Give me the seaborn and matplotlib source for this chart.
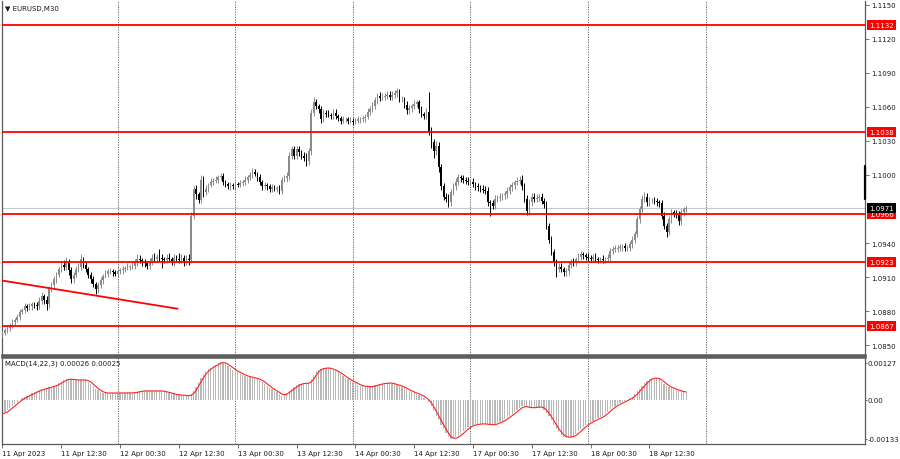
import numpy as np
import pandas as pd
import matplotlib
matplotlib.use("Agg")
import matplotlib.pyplot as plt
import matplotlib.transforms as mtransforms
import seaborn as sns

sns.set_theme(style="white")
plt.rcParams['font.family'] = ['DejaVu Sans']

# ---------------- data ----------------
BASE = 1.08          # price = BASE + pips * PIP
PIP = 0.0001
first_open_pips = 59

close_pips = [
    61, 63, 65, 67, 70, 72, 75, 79, 81, 84,
    83, 84, 86, 85, 84, 89, 93, 90, 86, 99,
    103, 108, 112, 117, 121, 119, 123, 116, 108, 112,
    117, 119, 126, 121, 117, 112, 108, 104, 99, 103,
    107, 111, 113, 115, 115, 114, 113, 115, 116, 117,
    118, 119, 119, 120, 123, 126, 125, 123, 122, 120,
    124, 127, 126, 128, 127, 126, 125, 127, 126, 124,
    127, 126, 125, 127, 124, 126, 125, 164, 188, 183,
    178, 196, 185, 188, 191, 194, 195, 196, 198, 199,
    194, 192, 190, 191, 190, 192, 191, 193, 194, 196,
    198, 200, 203, 201, 198, 194, 190, 191, 190, 188,
    189, 188, 188, 186, 196, 197, 199, 217, 223, 217,
    223, 220, 217, 215, 212, 221, 255, 264, 261, 258,
    249, 255, 254, 253, 252, 255, 252, 250, 248, 249,
    249, 248, 248, 247, 248, 249, 249, 250, 251, 256,
    258, 261, 266, 270, 268, 269, 270, 271, 269, 271,
    272, 274, 267, 267, 262, 257, 259, 261, 263, 264,
    258, 254, 252, 256, 238, 229, 221, 226, 207, 190,
    181, 179, 176, 185, 190, 194, 198, 197, 196, 195,
    194, 194, 192, 190, 189, 188, 187, 186, 176, 175,
    173, 179, 180, 181, 182, 183, 186, 189, 191, 194,
    195, 196, 190, 179, 168, 176, 181, 179, 180, 181,
    177, 174, 155, 143, 132, 123, 117, 119, 117, 114,
    115, 121, 124, 123, 126, 128, 130, 129, 128, 127,
    126, 128, 126, 125, 126, 125, 126, 127, 133, 135,
    135, 136, 136, 137, 136, 136, 139, 143, 148, 161,
    170, 179, 181, 176, 178, 178, 177, 176, 175, 164,
    155, 150, 161, 167, 166, 165, 159, 167, 170, 171,
]

up_wick_pips = [
    2, 2, 3, 2, 3, 2, 2, 3, 2, 3, 2, 3, 2, 2, 3, 3, 4, 2, 3, 3,
    3, 3, 2, 3, 3, 4, 5, 3, 3, 2, 3, 3, 4, 2, 3, 2, 2, 3, 2, 3,
    3, 2, 3, 2, 3, 2, 2, 3, 2, 3, 2, 3, 2, 3, 3, 4, 3, 2, 3, 2,
    3, 3, 4, 2, 7, 3, 2, 3, 4, 2, 3, 2, 5, 3, 2, 3, 4, 3, 2, 3,
    2, 4, 3, 3, 2, 3, 2, 3, 2, 3, 3, 2, 2, 3, 2, 3, 2, 3, 2, 3,
    2, 3, 3, 2, 2, 3, 2, 3, 2, 2, 3, 2, 2, 3, 2, 3, 4, 3, 3, 3,
    3, 3, 2, 3, 4, 3, 3, 5, 3, 2, 3, 3, 2, 3, 2, 3, 3, 2, 2, 3,
    2, 2, 3, 2, 2, 3, 2, 2, 3, 3, 3, 3, 3, 2, 3, 3, 2, 3, 3, 3,
    3, 3, 2, 3, 2, 3, 3, 2, 3, 2, 2, 3, 2, 3, 17, 4, 3, 4, 3, 3,
    3, 3, 4, 3, 3, 3, 3, 2, 3, 2, 3, 2, 3, 2, 3, 2, 3, 3, 3, 2,
    3, 3, 2, 3, 2, 3, 3, 3, 3, 2, 3, 3, 4, 3, 3, 3, 3, 3, 3, 2,
    3, 3, 3, 3, 3, 3, 3, 3, 3, 2, 3, 3, 2, 3, 2, 3, 3, 2, 2, 3,
    2, 2, 3, 2, 2, 3, 2, 3, 3, 2, 3, 2, 3, 2, 3, 2, 3, 3, 3, 3,
    3, 3, 4, 3, 3, 2, 3, 3, 2, 3, 3, 3, 3, 3, 2, 3, 3, 3, 2, 2,
]

dn_wick_pips = [
    3, 2, 2, 3, 2, 3, 2, 3, 2, 3, 3, 2, 3, 2, 3, 2, 3, 4, 5, 3,
    2, 3, 3, 2, 3, 3, 3, 4, 3, 3, 2, 3, 3, 3, 3, 3, 3, 3, 4, 3,
    3, 3, 2, 3, 2, 3, 2, 3, 2, 3, 3, 2, 3, 2, 3, 3, 3, 3, 3, 3,
    3, 3, 3, 3, 3, 8, 3, 3, 3, 3, 4, 3, 3, 3, 4, 3, 4, 3, 3, 4,
    3, 3, 4, 3, 3, 2, 3, 2, 3, 2, 3, 3, 2, 3, 2, 3, 2, 2, 3, 3,
    3, 2, 3, 2, 3, 3, 3, 2, 3, 3, 3, 2, 3, 3, 3, 2, 3, 3, 3, 3,
    3, 3, 3, 3, 4, 3, 3, 3, 3, 3, 3, 2, 3, 2, 3, 3, 3, 2, 3, 2,
    2, 3, 2, 3, 2, 2, 3, 2, 3, 2, 3, 2, 3, 3, 3, 2, 3, 3, 3, 3,
    3, 3, 3, 3, 3, 3, 3, 3, 3, 3, 3, 3, 3, 3, 3, 5, 6, 3, 4, 3,
    3, 3, 4, 3, 3, 3, 3, 3, 3, 3, 3, 3, 3, 3, 3, 3, 3, 3, 3, 11,
    3, 3, 3, 3, 3, 3, 3, 3, 3, 3, 3, 3, 3, 3, 3, 3, 3, 3, 3, 3,
    3, 3, 3, 3, 3, 3, 7, 3, 3, 3, 3, 3, 3, 3, 3, 3, 3, 3, 3, 3,
    3, 3, 3, 3, 3, 3, 3, 3, 3, 3, 3, 3, 3, 3, 3, 3, 3, 3, 3, 3,
    3, 3, 3, 3, 3, 3, 3, 3, 3, 3, 3, 5, 3, 3, 3, 3, 3, 3, 3, 3,
]

# MACD main line, in units of 0.00001
macd_1e5 = [
    -48, -42, -35, -28, -21, -14, -7, 0, 5, 10,
    14, 18, 22, 26, 30, 34, 36, 39, 41, 43,
    45, 48, 52, 57, 62, 67, 72, 71, 70, 69,
    68, 68, 69, 68, 68, 62, 55, 47, 38, 33,
    28, 24, 24, 23, 24, 24, 24, 24, 24, 23,
    24, 24, 24, 24, 26, 28, 30, 31, 31, 31,
    30, 31, 31, 31, 31, 30, 28, 26, 24, 21,
    19, 17, 17, 16, 15, 14, 14, 20, 32, 45,
    62, 76, 89, 98, 106, 111, 116, 121, 126, 130,
    127, 123, 117, 110, 104, 99, 94, 90, 86, 82,
    80, 78, 76, 74, 72, 68, 62, 55, 48, 42,
    36, 31, 27, 20, 14, 19, 25, 31, 37, 44,
    50, 55, 56, 57, 57, 58, 70, 84, 99, 104,
    107, 109, 110, 109, 106, 102, 99, 94, 88, 82,
    75, 70, 65, 61, 57, 52, 48, 47, 46, 45,
    45, 47, 50, 52, 55, 56, 57, 58, 58, 56,
    53, 50, 48, 45, 40, 36, 31, 27, 24, 21,
    17, 14, 8, 0, -7, -22, -38, -55, -70, -85,
    -99, -115, -127, -134, -132, -128, -123, -116, -108, -100,
    -92, -89, -86, -84, -83, -82, -82, -83, -84, -85,
    -86, -83, -79, -76, -72, -66, -60, -54, -48, -41,
    -34, -27, -21, -23, -25, -27, -27, -26, -25, -24,
    -24, -34, -45, -55, -70, -85, -99, -110, -120, -127,
    -128, -128, -126, -123, -116, -108, -100, -92, -86, -80,
    -75, -71, -67, -63, -59, -55, -48, -40, -32, -24,
    -20, -15, -11, -7, -3, 1, 5, 10, 19, 29,
    38, 48, 57, 65, 72, 74, 75, 75, 70, 62,
    55, 48, 44, 40, 37, 34, 31, 29, 27, 26,
]

levels = [1.1132, 1.1038, 1.0966, 1.0923, 1.0867]
level_labels = ["1.1132", "1.1038", "1.0966", "1.0923", "1.0867"]
bid_price = 1.0971
bid_label = "1.0971"
price_ticks = [1.1150, 1.1120, 1.1090, 1.1060, 1.1030, 1.1000,
               1.0940, 1.0910, 1.0880, 1.0850]
time_label_bars = [0, 24, 48, 72, 96, 120, 144, 168, 192, 216, 240, 264]
time_labels = ["11 Apr 2023", "11 Apr 12:30", "12 Apr 00:30", "12 Apr 12:30",
               "13 Apr 00:30", "13 Apr 12:30", "14 Apr 00:30", "14 Apr 12:30",
               "17 Apr 00:30", "17 Apr 12:30", "18 Apr 00:30", "18 Apr 12:30"]
separator_bars = [47, 95, 143, 191, 239, 287]
trend_bars = [-0.5, 71.5]
trend_prices = [1.0907, 1.0882]
macd_ticks = [0.00127, 0.0, -0.00133]
macd_tick_labels = ["0.00127", "0.00", "-0.00133"]
macd_title = "MACD(14,22,3) 0.00026 0.00025"
chart_title = "\u25BC EURUSD,M30"

assert len(close_pips) == len(up_wick_pips) == len(dn_wick_pips) == len(macd_1e5)

# ---------------- derived ----------------
n = len(close_pips)
idx = np.arange(n)
c = BASE + np.array(close_pips) * PIP
o = BASE + np.r_[first_open_pips, close_pips[:-1]] * PIP
hi = np.maximum(o, c) + np.array(up_wick_pips) * PIP
lo = np.minimum(o, c) - np.array(dn_wick_pips) * PIP
bull = c >= o
BULL_COL = "#8a8a8a"
BEAR_COL = "#000000"
cols = np.where(bull, BULL_COL, BEAR_COL)

macd = pd.Series(np.array(macd_1e5) * 1e-5)
signal = macd.rolling(3, min_periods=1).mean()
df_sig = pd.DataFrame({"bar": idx, "signal": signal.values})
df_trend = pd.DataFrame({"bar": trend_bars, "price": trend_prices})

# ---------------- figure ----------------
W, H = 900, 460
fig = plt.figure(figsize=(W / 100, H / 100), dpi=100)
fig.patch.set_facecolor("white")

def frac_box(x0, y0, x1, y1):
    return [x0 / W, (H - y1) / H, (x1 - x0) / W, (y1 - y0) / H]

ax = fig.add_axes(frac_box(2, 2, 865, 356))
axm = fig.add_axes(frac_box(2, 358, 865, 445), sharex=ax)

XLIM = (-0.2, 352.0)
ax.set_xlim(*XLIM)
ax.set_ylim(1.08412, 1.11535)
axm.set_ylim(-0.00151, 0.00147)

TXT = "#1a1a1a"
FS = 5.0
SPINE = "#5a5a5a"

# separators (dotted)
for g in separator_bars:
    ax.axvline(g, color="#505050", lw=0.6, ls=(0, (1.5, 1.5)), zorder=1)
    axm.axvline(g, color="#505050", lw=0.6, ls=(0, (1.5, 1.5)), zorder=1)

# bid line
ax.axhline(bid_price, color="#c8c8c8", lw=0.8, zorder=1)

# candles
ax.vlines(idx, lo, hi, colors=cols, lw=0.7, zorder=3)
body_h = np.maximum(np.abs(c - o), 0.00003)
ax.bar(idx, body_h, bottom=np.minimum(o, c), width=0.62, color=cols,
       linewidth=0, zorder=3)

# horizontal levels
for lv in levels:
    ax.axhline(lv, color="#ff0000", lw=1.3, zorder=4)

# trend line
sns.lineplot(data=df_trend, x="bar", y="price", ax=ax, color="#ff0000",
             lw=1.3, zorder=4)

# price axis
ax.yaxis.tick_right()
ax.set_yticks(price_ticks)
ax.set_yticklabels([f"{p:.4f}" for p in price_ticks])
ax.tick_params(axis="y", which="both", right=True, length=3, width=0.6,
               color=SPINE, labelsize=FS, labelcolor=TXT, pad=1.5)
ax.tick_params(axis="x", bottom=False, labelbottom=False)
ax.set_xlabel("")
ax.set_ylabel("")

ytrans = mtransforms.blended_transform_factory(ax.transAxes, ax.transData)
lab_x = 1.0 + 4.0 / 863
for lv, lt in zip(levels, level_labels):
    ax.text(lab_x, lv, lt, transform=ytrans, ha="left", va="center",
            fontsize=FS, color="white", zorder=10, clip_on=False,
            bbox=dict(boxstyle="square,pad=0.3", fc="#ff0000", ec="none"))
ax.text(lab_x, bid_price, bid_label, transform=ytrans, ha="left", va="center",
        fontsize=FS, color="white", zorder=10, clip_on=False,
        bbox=dict(boxstyle="square,pad=0.3", fc="#000000", ec="none"))

# small marker at right border
ax.plot([1.0, 1.0], [0.441, 0.534], transform=ax.transAxes, color="black",
        lw=1.6, clip_on=False, zorder=6)

ax.text(3 / 863, 0.981, chart_title, transform=ax.transAxes, ha="left",
        va="center", fontsize=FS, color=TXT)

# spines main
for s in ["left", "right", "bottom"]:
    ax.spines[s].set_color(SPINE)
    ax.spines[s].set_linewidth(0.9)
ax.spines["top"].set_visible(False)
ax.spines["bottom"].set_linewidth(1.8)

# MACD panel
axm.bar(idx, macd.values, width=0.5, color="#b8b8b8", linewidth=0, zorder=2)
sns.lineplot(data=df_sig, x="bar", y="signal", ax=axm, color="#ff2020",
             lw=0.8, zorder=3)
axm.yaxis.tick_right()
axm.set_yticks(macd_ticks)
axm.set_yticklabels(macd_tick_labels)
axm.tick_params(axis="y", right=True, length=1.2, width=0.6, color=SPINE,
                labelsize=FS, labelcolor=TXT, pad=0.6)
axm.set_xticks(time_label_bars)
axm.set_xticklabels(time_labels, ha="left")
axm.tick_params(axis="x", bottom=True, length=3, width=0.6, color=SPINE,
                labelsize=FS, labelcolor=TXT, pad=1.5)
axm.set_xlim(*XLIM)
axm.set_xlabel("")
axm.set_ylabel("")
for s in axm.spines.values():
    s.set_color(SPINE)
    s.set_linewidth(0.9)
axm.spines["top"].set_linewidth(1.8)
axm.text(3 / 863, 0.93, macd_title, transform=axm.transAxes, ha="left",
         va="center", fontsize=FS, color=TXT)

fig.savefig("out.png", dpi=100, facecolor="white")
